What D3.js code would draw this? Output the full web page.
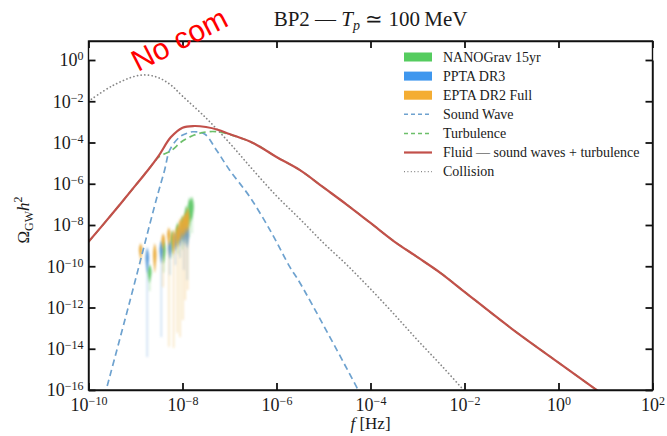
<!DOCTYPE html>
<html><head><meta charset="utf-8">
<script src="https://cdn.jsdelivr.net/npm/d3@7"></script>
<style>
html,body{margin:0;padding:0;background:#fff;}
svg{display:block;}
text{font-family:"Liberation Serif","Times New Roman",serif;fill:#1a1a1a;}
</style></head><body>
<svg id="chart" width="667" height="436"></svg>
<script>
// ---------- DATA (log10 f [Hz], log10 Omega h^2) ----------
const fluidLogF   = [-10,-9.5,-9,-8.75,-8.5,-8.25,-8,-7.75,-7.5,-7.25,-7,-6.5,-6,-5.5,-5,-4.5,-4,-3.5,-3,-2.5,-2,-1,0,1];
const fluidLogOm  = [-8.82,-7.47,-6.08,-5.38,-4.62,-3.75,-3.28,-3.20,-3.25,-3.38,-3.59,-4.02,-4.70,-5.34,-6.18,-7.02,-7.90,-8.79,-9.56,-10.34,-11.24,-13.02,-14.67,-16.31];

const turbLogF    = [-10,-9.5,-9,-8.75,-8.5,-8.25,-8,-7.75,-7.5,-7.25,-7,-6.5,-6,-5.5,-5,-4.5,-4,-3.5,-3,-2.5,-2,-1,0,1];
const turbLogOm   = [-8.82,-7.47,-6.08,-5.38,-4.70,-4.41,-3.93,-3.64,-3.49,-3.48,-3.61,-4.02,-4.70,-5.34,-6.18,-7.02,-7.90,-8.79,-9.56,-10.34,-11.24,-13.02,-14.67,-16.31];

const swLogF      = [-9.66,-9.13,-8.56,-8.38,-8.27,-8.06,-7.9,-7.78,-7.53,-7.28,-7.0,-6.57,-6.1,-5.72,-5.5,-4.3,-4.2];
const swLogOm     = [-16.3,-11.78,-6.79,-5.33,-4.36,-3.73,-3.55,-3.48,-3.59,-4.36,-5.33,-6.63,-8.4,-10.02,-10.81,-15.84,-16.3];

const collLogF    = [-10,-9.5,-9,-8.75,-8.5,-8.25,-8,-7.5,-7,-6.5,-6,-5.5,-5,-4.5,-4,-3.5,-3,-2.5,-2,-1.9];
const collLogOm   = [-2.0,-1.26,-0.78,-0.73,-0.87,-1.21,-1.75,-2.81,-4.02,-5.33,-6.59,-7.71,-8.87,-9.94,-11.10,-12.32,-13.58,-14.79,-16.05,-16.3];

// PTA violins: frequency bin, median, top, bottom of tail (log10)
const nanoLogF    = [-8.70,-8.40,-8.22,-8.10,-8.00,-7.92,-7.85,-7.80];
const nanoMid     = [-10.28,-9.21,-8.73,-8.34,-8.05,-7.66,-7.27,-7.10];
const nanoTop     = [-9.90,-8.73,-8.24,-7.85,-7.52,-7.03,-6.64,-6.60];
const nanoTail    = [-11.2,-10.3,-9.6,-9.4,-9.2,-8.9,-8.6,-8.4];

const pptaLogF    = [-8.75,-8.45,-8.27,-8.15,-8.05,-7.97,-7.90];
const pptaMid     = [-9.60,-9.21,-9.12,-8.73,-8.48,-8.34,-8.48];
const pptaTop     = [-9.07,-8.73,-8.73,-8.34,-8.05,-7.85,-8.00];
const pptaTail    = [-14.4,-13.43,-10.42,-9.94,-9.60,-10.18,-10.67];

const eptaLogF    = [-8.89,-8.59,-8.41,-8.29,-8.19,-8.11,-8.05,-7.99,-7.94,-7.89];
const eptaMid     = [-9.21,-9.45,-8.73,-8.48,-8.73,-8.48,-8.15,-8.00,-7.85,-7.66];
const eptaTop     = [-8.87,-8.87,-8.39,-8.10,-8.20,-8.00,-7.66,-7.52,-7.37,-7.13];
const eptaTail    = [-9.9,-10.3,-11.0,-13.9,-13.95,-13.24,-13.43,-12.6,-11.64,-11.15];

const xTickExp    = [-10,-8,-6,-4,-2,0,2];
const yTickExp    = [0,-2,-4,-6,-8,-10,-12,-14,-16];
const legendLabels= ["NANOGrav 15yr","PPTA DR3","EPTA DR2 Full","Sound Wave","Turbulence","Fluid \u2014 sound waves + turbulence","Collision"];

// ---------- LAYOUT ----------
const svg = d3.select("#chart");
const L = 88.5, R = 652.5, T = 41, B = 390;
const x = d3.scaleLog().domain([1e-10, 1e2]).range([L, R]);
const y = d3.scaleLog().domain([1e-16, 1]).range([B, 60]);
const P = v => Math.pow(10, v);

const C = {
  fluid: "#c2504a", sw: "#6ea2cf", turb: "#6cbf6a", coll: "#858585",
  nano: "#55cc5f", ppta: "#3f97ee", epta: "#f4ad33",
  nanoV: "#5cc866", pptaV: "#4f95d6", eptaV: "#e9a935"
};

const defs = svg.append("defs");
defs.append("clipPath").attr("id","clip").append("rect")
  .attr("x", L).attr("y", T).attr("width", R - L).attr("height", B - T);
defs.append("filter").attr("id","blur").attr("x","-50%").attr("width","200%")
  .append("feGaussianBlur").attr("stdDeviation", 0.8);

const plot = svg.append("g").attr("clip-path","url(#clip)");

// ---------- PTA violins ----------
function drawViolins(lf, mid, top, tail, color, w) {
  const g = plot.append("g").attr("filter","url(#blur)");
  lf.forEach((f, i) => {
    const cx = x(P(f)), yT = y(P(top[i])), yM = y(P(mid[i])), yTl = y(P(tail[i]));
    const h = yM - yT;
    const yB = Math.min(yM + 1.4 * h, yTl);
    g.append("line").attr("x1", cx).attr("x2", cx).attr("y1", yB).attr("y2", yTl)
      .attr("stroke", color).attr("stroke-width", 1.3).attr("opacity", 0.35);
    const pts = [[yT,0],[yT+0.45*h,0.65*w],[yM,w],[yM+0.7*h,0.55*w],[yB,0.15*w]];
    const area = d3.area().y(d => d[0]).x0(d => cx - d[1]).x1(d => cx + d[1]).curve(d3.curveBasis);
    g.append("path").attr("d", area(pts)).attr("fill", color).attr("opacity", 0.9);
  });
}
drawViolins(nanoLogF, nanoMid, nanoTop, nanoTail, C.nanoV, 2.3);
drawViolins(pptaLogF, pptaMid, pptaTop, pptaTail, C.pptaV, 2.1);
drawViolins(eptaLogF, eptaMid, eptaTop, eptaTail, C.eptaV, 2.1);

// ---------- curves ----------
const line = d3.line().x(d => x(P(d[0]))).y(d => y(P(d[1]))).curve(d3.curveCatmullRom.alpha(0.5));
const zip = (a, b) => a.map((v, i) => [v, b[i]]);

plot.append("path").attr("d", line(zip(collLogF, collLogOm))).attr("fill","none")
  .attr("stroke", C.coll).attr("stroke-width", 1.7).attr("stroke-dasharray","0.1,3.6").attr("stroke-linecap","round");
plot.append("path").attr("d", line(zip(swLogF, swLogOm))).attr("fill","none")
  .attr("stroke", C.sw).attr("stroke-width", 1.7).attr("stroke-dasharray","6.5,4");
plot.append("path").attr("d", line(zip(turbLogF, turbLogOm))).attr("fill","none")
  .attr("stroke", C.turb).attr("stroke-width", 1.7).attr("stroke-dasharray","6.5,4");
plot.append("path").attr("d", line(zip(fluidLogF, fluidLogOm))).attr("fill","none")
  .attr("stroke", C.fluid).attr("stroke-width", 2.2);

// ---------- axes ----------
function supLabel(sel, exps) {
  sel.selectAll(".tick text").each(function(d, i) {
    const t = d3.select(this).text("");
    t.append("tspan").text("10");
    t.append("tspan").attr("dy", "-0.5em").attr("font-size", "12px")
      .text(String(exps[i]).replace("-", "\u2212"));
  });
}
const axStyle = g => {
  g.select(".domain").attr("stroke","#111").attr("stroke-width",1.4);
  g.selectAll(".tick line").attr("stroke","#111").attr("stroke-width",1.8);
  g.selectAll("text").attr("font-family","Liberation Serif, serif").attr("font-size","18px").attr("fill","#1a1a1a");
};
const xVals = xTickExp.map(P), yVals = yTickExp.map(P);

const gxB = svg.append("g").attr("transform",`translate(0,${B})`)
  .call(d3.axisBottom(x).tickValues(xVals).tickSizeInner(-7).tickSizeOuter(0).tickPadding(8).tickFormat(() => ""));
axStyle(gxB); supLabel(gxB, xTickExp);
const gxT = svg.append("g").attr("transform",`translate(0,${T})`)
  .call(d3.axisTop(x).tickValues(xVals).tickSizeInner(-7).tickSizeOuter(0).tickFormat(() => ""));
axStyle(gxT);
const gyL = svg.append("g").attr("transform",`translate(${L},0)`)
  .call(d3.axisLeft(y).tickValues(yVals).tickSizeInner(-7).tickSizeOuter(0).tickPadding(5).tickFormat(() => ""));
axStyle(gyL); supLabel(gyL, yTickExp);
const gyR = svg.append("g").attr("transform",`translate(${R},0)`)
  .call(d3.axisRight(y).tickValues(yVals).tickSizeInner(-7).tickSizeOuter(0).tickFormat(() => ""));
axStyle(gyR);
svg.append("rect").attr("x", L).attr("y", T).attr("width", R - L).attr("height", B - T)
  .attr("fill","none").attr("stroke","#111").attr("stroke-width",1.4);

// ---------- labels ----------
const title = svg.append("text").attr("x", (L + R) / 2).attr("y", 26).attr("text-anchor","middle").attr("font-size","21px");
title.append("tspan").text("BP2 \u2014 ");
title.append("tspan").attr("font-style","italic").text("T");
title.append("tspan").attr("font-style","italic").attr("font-size","14px").attr("dy","4").text("p");
title.append("tspan").attr("dy","-4").text(" \u2243 100\u2009MeV");

const xl = svg.append("text").attr("x", (L + R) / 2).attr("y", 429).attr("text-anchor","middle").attr("font-size","17px");
xl.append("tspan").attr("font-style","italic").text("f");
xl.append("tspan").text(" [Hz]");

const yl = svg.append("text").attr("transform","translate(29,220) rotate(-90)").attr("text-anchor","middle").attr("font-size","17px");
yl.append("tspan").text("\u03A9");
yl.append("tspan").attr("font-size","12px").attr("dy","4").text("GW");
yl.append("tspan").attr("font-style","italic").attr("dy","-4").text("h");
yl.append("tspan").attr("font-size","12px").attr("dy","-7").text("2");

// ---------- legend ----------
const lg = svg.append("g");
const lx0 = 404, lx1 = 432, ly0 = 57, dy = 19.1;
const legendKinds = [
  {type:"patch", color:C.nano}, {type:"patch", color:C.ppta}, {type:"patch", color:C.epta},
  {type:"line", color:C.sw, dash:"4,3", w:1.5}, {type:"line", color:C.turb, dash:"4,3", w:1.5},
  {type:"line", color:C.fluid, dash:null, w:2.2}, {type:"line", color:C.coll, dash:"1,2.4", w:1.3}
];
legendLabels.forEach((lab, i) => {
  const yy = ly0 + i * dy, k = legendKinds[i];
  if (k.type === "patch") {
    lg.append("rect").attr("x", lx0).attr("y", yy - 4.5).attr("width", lx1 - lx0).attr("height", 9).attr("fill", k.color);
  } else {
    lg.append("line").attr("x1", lx0).attr("x2", lx1).attr("y1", yy).attr("y2", yy)
      .attr("stroke", k.color).attr("stroke-width", k.w).attr("stroke-dasharray", k.dash);
  }
  lg.append("text").attr("x", 443).attr("y", yy + 4.5).attr("font-size","14px").text(lab);
});

// ---------- watermark ----------
svg.append("text").attr("transform","translate(138,72) rotate(-27)")
  .attr("font-size","30px")
  .style("fill","#ff0000").style("font-family","'Liberation Sans', Arial, sans-serif").text("No com");
</script>
</body></html>
